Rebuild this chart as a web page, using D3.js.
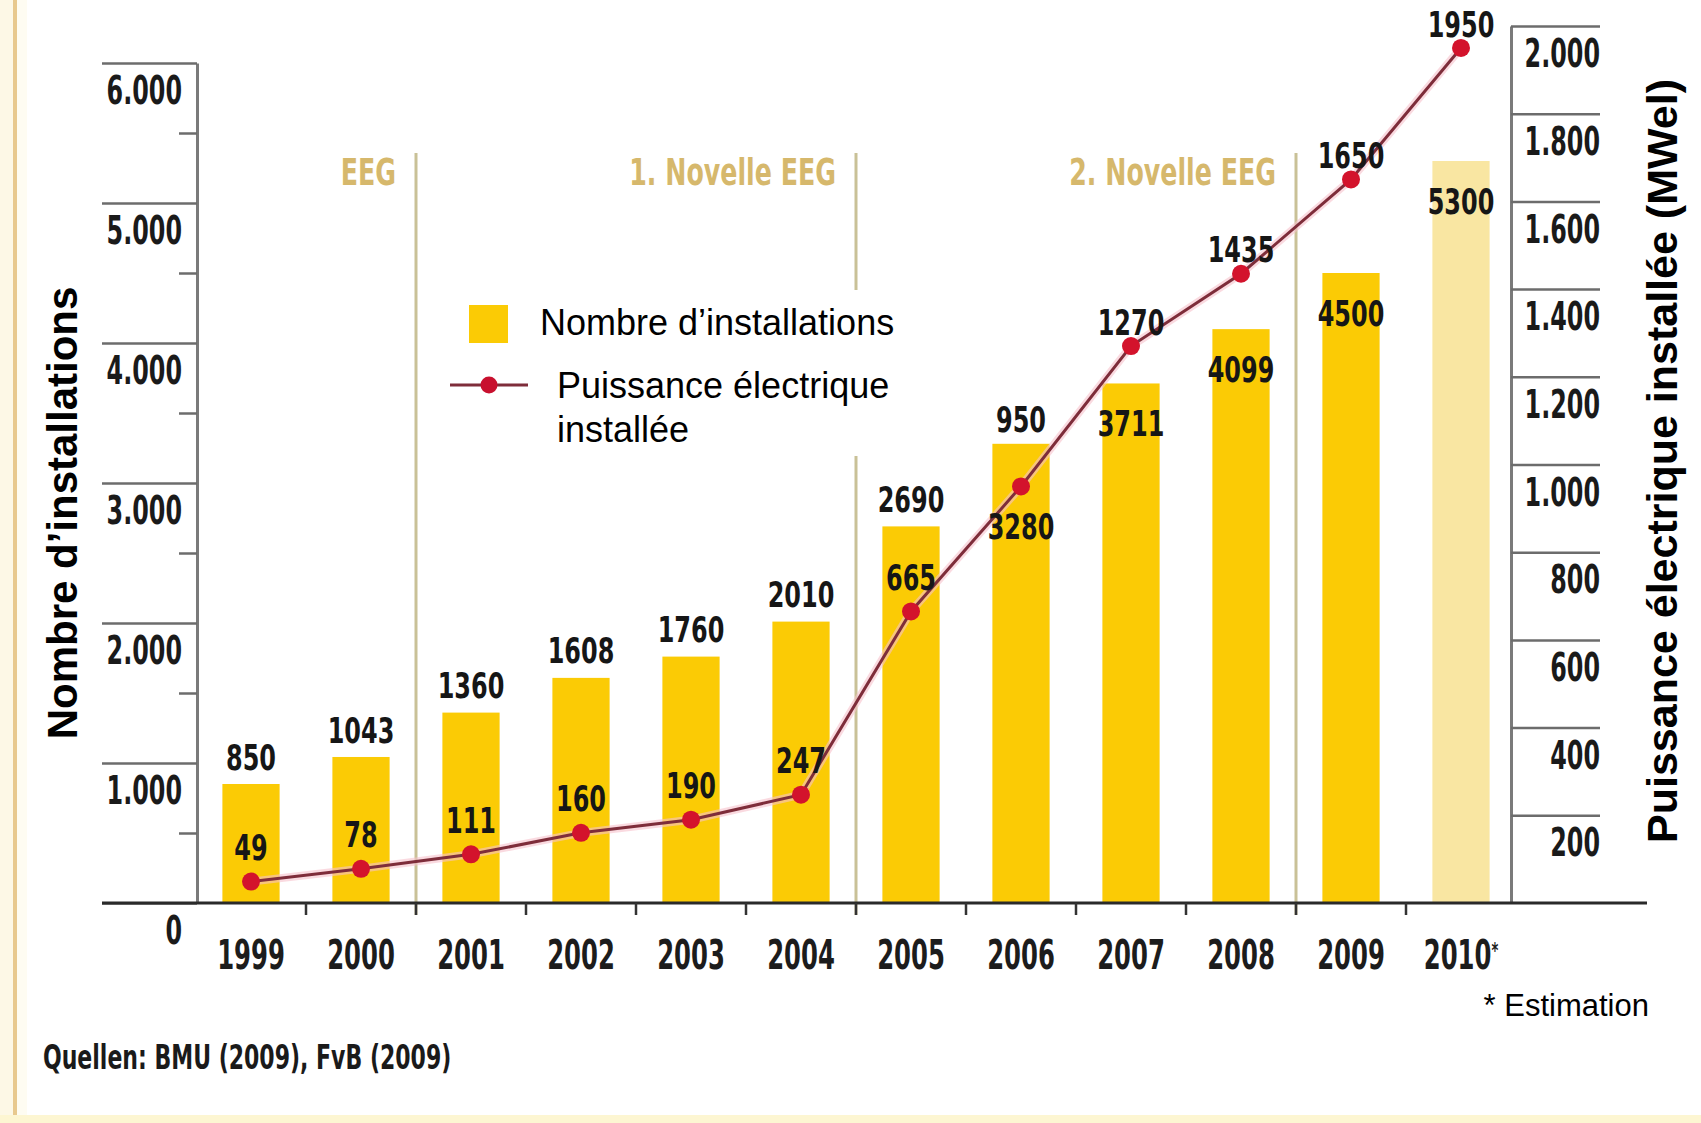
<!DOCTYPE html>
<html lang="fr">
<head>
    <meta charset="UTF-8">
    <title>Installations de biogaz en Allemagne</title>
    <script src="https://d3js.org/d3.v7.min.js"></script>
    <style>
        body { margin: 0; background: #fff; }
        .cond { font-family: "Liberation Sans Narrow", "DejaVu Sans Condensed", sans-serif; }
        .arial { font-family: "Liberation Sans", Arial, sans-serif; }
    </style>
</head>
<body>
    <svg id="chart"></svg>

    <script>
        // data
        const years = ["1999", "2000", "2001", "2002", "2003", "2004", "2005", "2006", "2007", "2008", "2009", "2010*"];
        const installations = [850, 1043, 1360, 1608, 1760, 2010, 2690, 3280, 3711, 4099, 4500, 5300];
        const puissance = [49, 78, 111, 160, 190, 247, 665, 950, 1270, 1435, 1650, 1950];
        const leftTicks = [0, 1000, 2000, 3000, 4000, 5000, 6000];
        const leftMinor = [500, 1500, 2500, 3500, 4500, 5500];
        const rightTicks = [200, 400, 600, 800, 1000, 1200, 1400, 1600, 1800, 2000];
        const lawYears = ["2001", "2005", "2009"];
        const lawLabels = ["EEG", "1. Novelle EEG", "2. Novelle EEG"];

        const W = 1701, H = 1123;
        const base = 903;

        const svg = d3.select("#chart")
            .attr("width", W)
            .attr("height", H);

        // squeeze text horizontally around its anchor (no true narrow font available)
        function squeeze(sel, f) {
            sel.each(function() {
                const x0 = +this.getAttribute("x") || 0;
                d3.select(this)
                    .attr("transform", `translate(${x0},0) scale(${f},1) translate(${-x0},0)`);
            });
        }

        // page frame: cream strip + tan rule on the left, pale strip at bottom
        svg.append("rect").attr("x", 0).attr("y", 0).attr("width", 13).attr("height", H).attr("fill", "#fdf8e6");
        svg.append("rect").attr("x", 13).attr("y", 0).attr("width", 4).attr("height", H).attr("fill", "#e8c98e");
        svg.append("rect").attr("x", 17).attr("y", 0).attr("width", 10).attr("height", H).attr("fill", "#fefcf2");
        svg.append("rect").attr("x", 0).attr("y", H - 8).attr("width", W).attr("height", 8).attr("fill", "#fdf6d2");

        const x = d3.scaleBand()
            .domain(years)
            .range([196, 1516])
            .paddingInner(0.48)
            .paddingOuter(0.24);

        const yL = d3.scaleLinear().domain([0, 6000]).range([base, 63]);
        const yR = d3.scaleLinear().domain([0, 2000]).range([base, 26]);

        const cx = d => x(d) + x.bandwidth() / 2;
        const boundary = d => x(d) - (x.step() - x.bandwidth()) / 2;

        const fmt = d3.formatLocale({ decimal: ",", thousands: ".", grouping: [3], currency: ["", ""] }).format(",");

        // law separators
        lawYears.forEach((yr, i) => {
            const bx = boundary(yr);
            svg.append("line")
                .attr("x1", bx).attr("x2", bx)
                .attr("y1", 153).attr("y2", base + 12)
                .attr("stroke", "#c9c197")
                .attr("stroke-width", 3);
            svg.append("text")
                .attr("class", "cond law")
                .attr("x", bx - 20)
                .attr("y", 172)
                .attr("dy", "0.35em")
                .attr("text-anchor", "end")
                .attr("font-size", 38)
                .attr("font-weight", "bold")
                .attr("fill", "#d6b86c")
                .text(lawLabels[i]);
        });
        squeeze(svg.selectAll("text.law"), 0.74);

        // bars
        svg.selectAll("rect.bar")
            .data(years)
            .enter().append("rect")
            .attr("class", "bar")
            .attr("x", d => x(d))
            .attr("y", (d, i) => yL(installations[i]))
            .attr("width", x.bandwidth())
            .attr("height", (d, i) => base - yL(installations[i]))
            .attr("fill", d => d.includes("*") ? "#f9e6a2" : "#fbcb05");

        // left axis
        const gL = svg.append("g")
            .attr("transform", "translate(197,0)")
            .call(d3.axisLeft(yL).tickValues(leftTicks).tickSize(95).tickSizeOuter(0).tickFormat(fmt));
        gL.select(".domain").attr("stroke", "#7a7a7a").attr("stroke-width", 3);
        gL.selectAll(".tick line").attr("stroke", "#6c6c6c").attr("stroke-width", 2.5);
        gL.selectAll(".tick text")
            .attr("class", "cond")
            .attr("x", -15)
            .attr("y", 27)
            .attr("dy", "0.35em")
            .attr("font-size", 39)
            .attr("font-weight", "bold")
            .attr("fill", "#1a1a1a");
        squeeze(gL.selectAll(".tick text"), 0.68);

        svg.append("g")
            .attr("transform", "translate(197,0)")
            .call(d3.axisLeft(yL).tickValues(leftMinor).tickSize(18).tickFormat(""))
            .call(g => g.select(".domain").remove())
            .selectAll(".tick line").attr("stroke", "#6c6c6c").attr("stroke-width", 2.5);

        // right axis
        const gR = svg.append("g")
            .attr("transform", "translate(1511,0)")
            .call(d3.axisRight(yR).tickValues(rightTicks).tickSize(89).tickSizeOuter(0).tickFormat(fmt));
        gR.select(".domain").attr("stroke", "#7a7a7a").attr("stroke-width", 3);
        gR.selectAll(".tick line").attr("stroke", "#6c6c6c").attr("stroke-width", 2.5);
        gR.selectAll(".tick text")
            .attr("class", "cond")
            .attr("x", 89)
            .attr("y", 27)
            .attr("dy", "0.35em")
            .attr("text-anchor", "end")
            .attr("font-size", 39)
            .attr("font-weight", "bold")
            .attr("fill", "#1a1a1a");
        squeeze(gR.selectAll(".tick text"), 0.68);

        // baseline + ticks between categories
        svg.append("line")
            .attr("x1", 102).attr("x2", 1647)
            .attr("y1", base).attr("y2", base)
            .attr("stroke", "#2a2a2a")
            .attr("stroke-width", 3);
        svg.selectAll("line.xtick")
            .data(years.slice(1))
            .enter().append("line")
            .attr("class", "xtick")
            .attr("x1", d => boundary(d)).attr("x2", d => boundary(d))
            .attr("y1", base).attr("y2", base + 12)
            .attr("stroke", "#333")
            .attr("stroke-width", 2.5);

        // year labels
        const gX = svg.append("g")
            .attr("transform", `translate(0, ${base})`)
            .call(d3.axisBottom(x).tickSize(0).tickFormat(""));
        gX.select(".domain").remove();
        gX.selectAll(".tick").append("text")
            .attr("class", "cond")
            .attr("y", 52)
            .attr("dy", "0.35em")
            .attr("text-anchor", "middle")
            .attr("font-size", 41)
            .attr("font-weight", "bold")
            .attr("fill", "#1c1c1c")
            .each(function(d) {
                const t = d3.select(this);
                t.append("tspan").text(d.replace("*", ""));
                if (d.includes("*")) {
                    t.append("tspan").attr("dy", -11).attr("font-size", 22).text("*");
                }
            });
        squeeze(gX.selectAll(".tick text"), 0.66);

        // line for installed power
        const pts = years.map((d, i) => [cx(d), yR(puissance[i])]);
        svg.append("path")
            .datum(pts)
            .attr("d", d3.line())
            .attr("fill", "none")
            .attr("stroke", "#f6c2cb")
            .attr("stroke-width", 8)
            .attr("opacity", 0.6);
        svg.append("path")
            .datum(pts)
            .attr("d", d3.line())
            .attr("fill", "none")
            .attr("stroke", "#7e2d3a")
            .attr("stroke-width", 3);
        svg.selectAll("circle.pt")
            .data(pts)
            .enter().append("circle")
            .attr("class", "pt")
            .attr("cx", d => d[0])
            .attr("cy", d => d[1])
            .attr("r", 9)
            .attr("fill", "#d3132c");

        // value labels
        years.forEach((d, i) => {
            const barTop = yL(installations[i]);
            const py = yR(puissance[i]);
            const swap = py - 34 < barTop + 20;
            const barY = swap ? Math.max(barTop, py) + 40 : barTop - 27;
            const lineY = swap ? Math.min(barTop, py) - 24 : py - 34;
            svg.append("text")
                .attr("class", "cond val")
                .attr("x", cx(d)).attr("y", barY).attr("dy", "0.35em")
                .attr("text-anchor", "middle")
                .attr("font-size", 36)
                .attr("font-weight", "bold")
                .attr("fill", "#161616")
                .text(installations[i]);
            svg.append("text")
                .attr("class", "cond val")
                .attr("x", cx(d)).attr("y", lineY).attr("dy", "0.35em")
                .attr("text-anchor", "middle")
                .attr("font-size", 36)
                .attr("font-weight", "bold")
                .attr("fill", "#161616")
                .text(puissance[i]);
        });
        squeeze(svg.selectAll("text.val"), 0.74);

        // legend
        svg.append("rect")
            .attr("x", 532).attr("y", 290).attr("width", 390).attr("height", 166)
            .attr("fill", "#fff");
        svg.append("rect")
            .attr("x", 469).attr("y", 305).attr("width", 39).attr("height", 38)
            .attr("fill", "#fbcb05");
        svg.append("line")
            .attr("x1", 450).attr("x2", 528).attr("y1", 385).attr("y2", 385)
            .attr("stroke", "#7e2d3a").attr("stroke-width", 3);
        svg.append("circle")
            .attr("cx", 489).attr("cy", 385).attr("r", 8.5)
            .attr("fill", "#c8102e");
        const leg = svg.append("g").attr("class", "arial").attr("font-size", 36).attr("fill", "#000");
        leg.append("text").attr("x", 540).attr("y", 322).attr("dy", "0.35em").text("Nombre d’installations");
        leg.append("text").attr("x", 557).attr("y", 385).attr("dy", "0.35em").text("Puissance électrique");
        leg.append("text").attr("x", 557).attr("y", 429).attr("dy", "0.35em").text("installée");

        // axis titles
        svg.append("text")
            .attr("class", "arial")
            .attr("transform", "translate(62, 513) rotate(-90)")
            .attr("dy", "0.35em")
            .attr("text-anchor", "middle")
            .attr("font-size", 42)
            .attr("font-weight", "bold")
            .text("Nombre d’installations");
        svg.append("text")
            .attr("class", "arial")
            .attr("transform", "translate(1662, 461) rotate(-90)")
            .attr("dy", "0.35em")
            .attr("text-anchor", "middle")
            .attr("font-size", 43)
            .attr("font-weight", "bold")
            .text("Puissance électrique installée (MWel)");

        // footnote + source
        svg.append("text")
            .attr("class", "arial")
            .attr("x", 1649).attr("y", 1005).attr("dy", "0.35em")
            .attr("text-anchor", "end")
            .attr("font-size", 31)
            .text("* Estimation");
        const src = svg.append("text")
            .attr("class", "cond")
            .attr("x", 43).attr("y", 1057).attr("dy", "0.35em")
            .attr("font-size", 34)
            .attr("font-weight", "bold")
            .attr("fill", "#1a1a1a")
            .text("Quellen: BMU (2009), FvB (2009)");
        squeeze(src, 0.72);
    </script>
</body>
</html>
